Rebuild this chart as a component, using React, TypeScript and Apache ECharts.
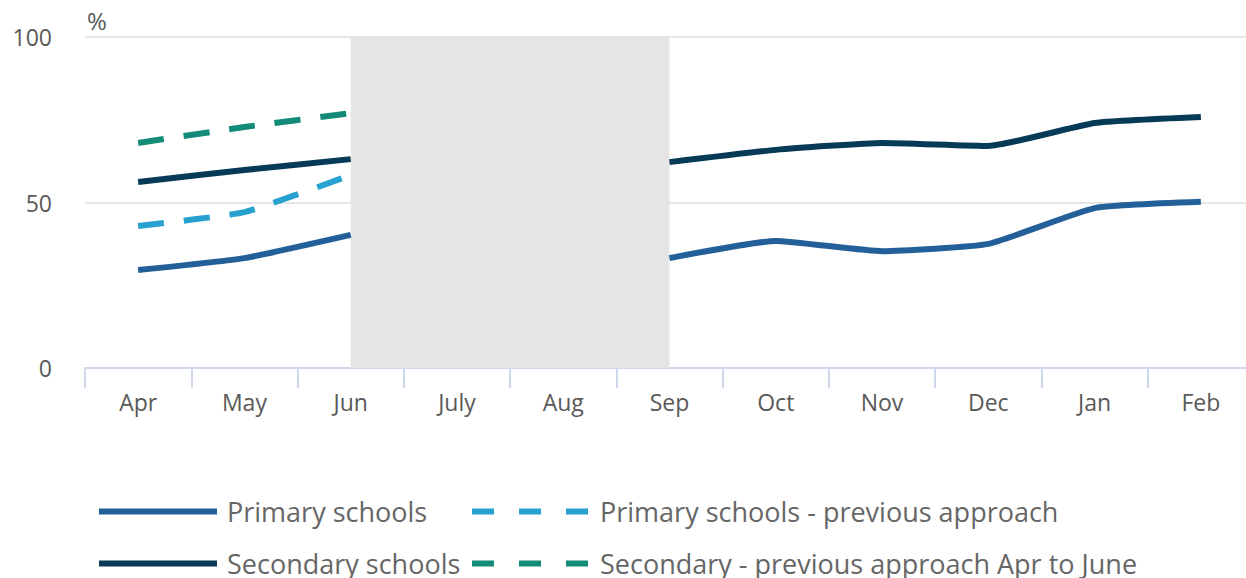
import React, { useEffect, useRef } from "react";
import * as echarts from "echarts";

const months = ["Apr", "May", "Jun", "July", "Aug", "Sep", "Oct", "Nov", "Dec", "Jan", "Feb"];
const primary = [29.6, 33.2, 40.2, null, null, 33.2, 38.4, 35.3, 37.5, 48.3, 50.2];
const secondary = [56.2, 59.8, 63.1, null, null, 62.2, 65.9, 68.0, 67.1, 74.0, 75.8];
const primaryPrev = [42.9, 47.1, 58.3, null, null, null, null, null, null, null, null];
const secondaryPrev = [68.0, 72.8, 77.0, null, null, null, null, null, null, null, null];
const yTicks = [0, 50, 100];
const shadeFrom = "Jun";
const shadeTo = "Sep";

const NAMES = [
  "Primary schools",
  "Secondary schools",
  "Primary schools - previous approach",
  "Secondary - previous approach Apr to June",
];

export default function App() {
  const ref = useRef<HTMLDivElement>(null);
  useEffect(() => {
    if (!ref.current) return;
    const chart = echarts.init(ref.current, null, { renderer: "svg" });
    const font = "'Open Sans', 'Noto Sans', sans-serif";
    const mkLegend = (name: string, left: number, top: number, dashed: boolean) => ({
      left,
      top,
      padding: 0,
      itemWidth: 118,
      itemHeight: 26,
      data: [name],
      itemStyle: { opacity: 0 },
      lineStyle: dashed ? { width: 6, opacity: 1, type: [22, 25] } : { width: 6, opacity: 1 },
      textStyle: {
        fontFamily: font,
        fontSize: 27,
        color: "#666666",
        lineHeight: 26,
        padding: [0, 0, 0, 5],
      },
    });
    chart.setOption({
      animation: false,
      grid: { left: 85, right: -8, top: 37, bottom: 210, outerBoundsMode: "none", containLabel: false },
      graphic: [
        {
          type: "text",
          left: 87,
          top: 8,
          style: { text: "%", fontFamily: font, fontSize: 24, fill: "#595959" },
        },
      ],
      legend: [
        mkLegend(NAMES[0], 96, 498, false),
        mkLegend(NAMES[1], 96, 550, false),
        mkLegend(NAMES[2], 469, 498, true),
        mkLegend(NAMES[3], 469, 550, true),
      ],
      xAxis: {
        type: "category",
        data: months,
        boundaryGap: true,
        axisLine: { show: true, lineStyle: { color: "#cdd8ea", width: 2 } },
        axisTick: { show: true, length: 20, lineStyle: { color: "#cdd8ea", width: 2 } },
        axisLabel: { fontFamily: font, fontSize: 23, color: "#595959", margin: 22 },
        splitLine: { show: false },
      },
      yAxis: {
        type: "value",
        min: 0,
        max: 100,
        interval: 50,
        axisLine: { show: false },
        axisTick: { show: false },
        axisLabel: {
          fontFamily: font,
          fontSize: 23,
          color: "#595959",
          margin: 33,
          formatter: (v: number) => (yTicks.includes(v) ? String(v) : ""),
        },
        splitLine: { lineStyle: { color: "#e6e6e6", width: 2 } },
      },
      series: [
        {
          name: NAMES[0],
          type: "line",
          data: primary,
          showSymbol: false,
          symbol: "none",
          smooth: 0.15,
          lineStyle: { color: "#236099", width: 6 },
          itemStyle: { color: "#236099" },
          z: 3,
          markArea: {
            silent: true,
            itemStyle: { color: "#e5e5e5", opacity: 1 },
            data: [[{ xAxis: shadeFrom, yAxis: 0 }, { xAxis: shadeTo, yAxis: 100 }]],
          },
        },
        {
          name: NAMES[1],
          type: "line",
          data: secondary,
          showSymbol: false,
          symbol: "none",
          smooth: 0.15,
          lineStyle: { color: "#063a56", width: 6 },
          itemStyle: { color: "#063a56" },
          z: 3,
        },
        {
          name: NAMES[2],
          type: "line",
          data: primaryPrev,
          showSymbol: false,
          symbol: "none",
          smooth: 0.15,
          lineStyle: { color: "#27a1cf", width: 6, type: [26, 20] },
          itemStyle: { color: "#27a1cf" },
          z: 3,
        },
        {
          name: NAMES[3],
          type: "line",
          data: secondaryPrev,
          showSymbol: false,
          symbol: "none",
          smooth: 0.15,
          lineStyle: { color: "#128c78", width: 6, type: [26, 20] },
          itemStyle: { color: "#128c78" },
          z: 3,
        },
      ],
    });
    return () => chart.dispose();
  }, []);
  return <div ref={ref} style={{ width: 1246, height: 578, position: "absolute", left: 0, top: 0 }} />;
}
